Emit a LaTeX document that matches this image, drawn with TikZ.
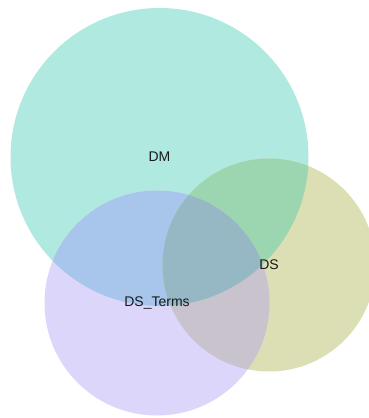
\documentclass[tikz,border=0pt]{standalone}
\usepackage{fontspec}
\setmainfont{Liberation Sans}
\usepackage{tikz}

\definecolor{dmonly}{HTML}{B0E9E0}
\definecolor{dsonly}{HTML}{DCDFB4}
\definecolor{dstonly}{HTML}{DCD6FA}
\definecolor{dmdst}{HTML}{A8C6EC}
\definecolor{dmds}{HTML}{9CD6B0}
\definecolor{dsdst}{HTML}{C8C3CC}
\definecolor{allthree}{HTML}{96B8C4}

\begin{document}
\begin{tikzpicture}[x=1pt, y=-1pt,
    vennlabel/.style={font=\fontsize{14}{16}\selectfont, text=black!90}]
    \useasboundingbox (0,0) rectangle (368,418);
    \coordinate (dm) at (159.5,157);
    \coordinate (ds) at (269,265);
    \coordinate (dst) at (157,303);

    % single sets
    \fill[dmonly] (dm) circle[radius=149pt];
    \fill[dsonly] (ds) circle[radius=106.5pt];
    \fill[dstonly] (dst) circle[radius=112.5pt];

    % overlaps
    \begin{scope}
        \clip (dm) circle[radius=149pt];
        \fill[dmdst] (dst) circle[radius=112.5pt];
    \end{scope}
    \begin{scope}
        \clip (dm) circle[radius=149pt];
        \fill[dmds] (ds) circle[radius=106.5pt];
    \end{scope}
    \begin{scope}
        \clip (ds) circle[radius=106.5pt];
        \fill[dsdst] (dst) circle[radius=112.5pt];
    \end{scope}
    \begin{scope}
        \clip (dm) circle[radius=149pt];
        \clip (ds) circle[radius=106.5pt];
        \fill[allthree] (dst) circle[radius=112.5pt];
    \end{scope}

    \node[vennlabel] (dmlabel) at (dm) {DM};
    \node[vennlabel] (dslabel) at (ds) {DS};
    \node[vennlabel] (dstlabel) at (dst) {DS\_Terms};
\end{tikzpicture}
\end{document}
